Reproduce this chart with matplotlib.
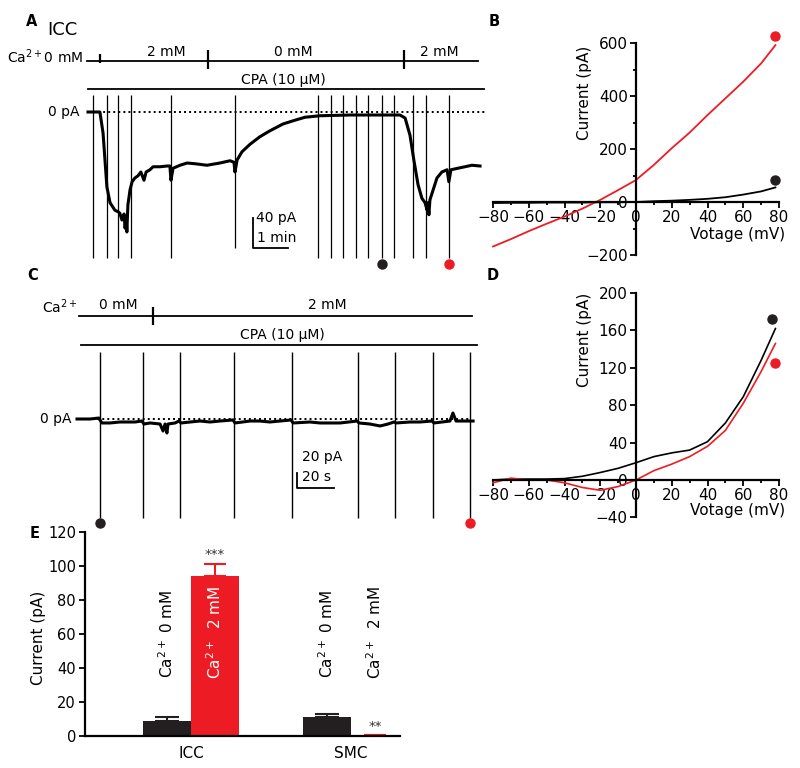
"""
ICC / SMC Ca2+ 의존 전류 — 5 패널 (A~E) 재현
"""
import matplotlib
matplotlib.use("Agg")
import matplotlib.pyplot as plt
import matplotlib.ticker as mticker

plt.rcParams["font.family"] = ["DejaVu Sans"]
plt.rcParams["mathtext.fontset"] = "dejavusans"

BLACK = "#231f20"
RED = "#ed1c24"

# ── 데이터 ────────────────────────────────────────────────────────────
# A: ICC 전류 기록 (시간 min, 전류 pA)
a_t = [0, 0.34, 0.43, 0.54, 0.63, 0.77, 0.86, 0.91, 0.97, 1.03, 1.06, 1.09, 1.11,
       1.14, 1.2, 1.26, 1.34, 1.43, 1.51, 1.6, 1.66, 1.77, 1.86, 2.06, 2.26, 2.34,
       2.37, 2.43, 2.63, 2.83, 3.06, 3.4, 3.77, 4.06, 4.17, 4.2, 4.26, 4.4, 4.63,
       4.91, 5.2, 5.57, 5.91, 6.2, 6.63, 7.49, 8.34, 8.91, 9.06, 9.2, 9.31, 9.43,
       9.54, 9.63, 9.69, 9.71, 9.74, 9.77, 9.86, 9.97, 10.11, 10.26, 10.31, 10.37,
       10.57, 10.77, 10.97, 11.2]
a_i = [0, 0, -28, -100, -121, -131, -133, -135, -144, -136, -155, -140, -160,
       -124, -104, -93, -88, -85, -80, -91, -80, -77, -73, -73, -72, -72,
       -91, -75, -71, -68, -69, -71, -68, -65, -67, -80, -64, -53, -43,
       -33, -25, -16, -11, -7, -5, -4, -4, -4, -8, -31, -64, -97,
       -115, -121, -131, -121, -137, -117, -104, -88, -80, -77, -93, -77,
       -75, -73, -71, -72]
a_ramps = [0.14, 0.54, 0.86, 1.23, 2.37, 4.2, 6.57, 6.94, 7.29, 7.66, 8.0, 8.4,
           8.74, 9.29, 9.66, 10.31]
a_ramp_bottom = [-195, -195, -195, -195, -195, -181, -195, -195, -195, -195,
                 -195, -195, -195, -195, -195, -195]
a_ramp_top = 23
a_ca_switch = [0.34, 3.43, 9.03]
a_ca_labels = ["2 mM", "0 mM", "2 mM"]
a_marked = [8.4, 10.31]   # 검정: Ca 0 mM, 빨강: Ca 2 mM

# B: ICC I-V (mV, pA)
b_v = [-80, -70, -60, -50, -40, -30, -20, -10, 0, 10, 20, 30, 40, 50, 60, 70, 78]
b_ca0 = [-4, -3, -3, -2, -2, -2, -1, -1, 0, 3, 5, 8, 12, 18, 28, 40, 55]
b_ca2 = [-168, -140, -110, -82, -55, -25, 8, 45, 83, 140, 203, 262, 328, 391,
         454, 523, 592]
b_dots = [(77.5, 83), (77.5, 626)]

# C: SMC 전류 기록 (시간 s, 전류 pA)
c_t = [0, 7, 11.9, 12.4, 13.5, 17.8, 23.2, 31.4, 35.1, 36.2, 39.5, 44.9, 46.5,
       47.6, 48.6, 49.2, 53, 55.1, 56.2, 61.1, 66.5, 71.9, 77.3, 84.3, 85.4, 93.5,
       98.9, 104.3, 109.7, 115.7, 116.8, 125.9, 131.4, 142.2, 151.4, 152.4, 158.4,
       163.8, 168.1, 171.4, 172.4, 180, 185.4, 191.9, 192.9, 201.6, 203.2, 204.9,
       212.4, 214.1]
c_i = [0, 0, 1.3, -1.3, -5.3, -5.3, -4, -4, -2.7, -6.7, -5.3, -6.7, -16,
       -6.7, -18.7, -6.7, -5.3, -2.7, -5.3, -4, -2.7, -4, -2.7, -1.3, -5.3, -2.7,
       -2.7, -4, -2.7, -1.3, -5.3, -4, -5.3, -5.3, -2.7, -5.3, -6.7,
       -9.3, -6.7, -4, -5.3, -4, -4, -2.7, -5.3, -2.7, 8, -2.7,
       -2.7, -2.7]
c_ramps = [12.4, 35.7, 55.7, 84.9, 116.2, 151.9, 171.9, 192.4, 212.4]
c_ramp_top, c_ramp_bottom = 89, -132
c_ca_switch = 41.1
c_marked = [12.4, 212.4]

# D: SMC I-V (mV, pA)
d_v = [-80, -70, -60, -50, -40, -30, -20, -10, 0, 10, 20, 30, 40, 50, 60, 70, 78]
d_ca0 = [0, 1, 1, 1, 1.5, 4, 8, 12.5, 18.5, 25, 29, 32, 41, 61, 89, 128, 162]
d_ca2 = [-3, 2, 0, 0, -3, -8, -11, -7, 0, 10, 17, 25, 36, 53, 82, 116, 146]
d_dots = [(76, 172), (78, 125)]

# E: 평균 전류 요약
e_groups = ["ICC", "SMC"]
e_ca0_mean = [8.6, 11.0]
e_ca0_err = [2.8, 2.0]
e_ca2_mean = [94.0, 0.8]
e_ca2_err = [7.0, 0.0]
e_stars = ["***", "**"]

# ── 레이아웃 도우미 (픽셀 기준) ───────────────────────────────────────
W, H = 800, 768
fig = plt.figure(figsize=(W / 100, H / 100), dpi=100)


def box(l, t, r, b, x0, sx, y0, sy):
    ax = fig.add_axes([l / W, 1 - b / H, (r - l) / W, (b - t) / H])
    ax.set_xlim((l - x0) / sx, (r - x0) / sx)
    ax.set_ylim((y0 - b) / sy, (y0 - t) / sy)
    ax.patch.set_alpha(0)
    return ax


def ftext(x, y, s, **kw):
    kw.setdefault("fontsize", 10)
    kw.setdefault("va", "center")
    fig.text(x / W, 1 - y / H, s, **kw)


for lab, (x, y) in zip("ABCDE", [(32, 21), (494, 21), (33, 275), (493, 275), (35, 533)]):
    ftext(x, y, lab, fontsize=10.5, fontweight="bold", ha="center")

# ── A ───────────────────────────────────────────────────────────────
axA = box(70, 40, 495, 275, x0=88, sx=35, y0=112, sy=0.75)
axA.axis("off")
axA.plot([0, 11.37], [0, 0], color="k", lw=1.4, ls=(0, (1, 1.6)))
axA.vlines(a_ramps, a_ramp_bottom, a_ramp_top, color="k", lw=0.9)
axA.plot(a_t, a_i, color="k", lw=2.2, solid_joinstyle="round")
axA.plot([-0.03, 11.14], [68, 68], color="k", lw=1.3)
axA.vlines(a_ca_switch[0], 66, 77, color="k", lw=1.6)
axA.vlines(a_ca_switch[1:], 57, 83, color="k", lw=1.6)
axA.plot([0, 11.31], [30.7, 30.7], color="k", lw=1.3)
axA.plot([4.71, 4.71, 5.71], [-141, -181, -181], color="k", lw=1.3)
axA.plot(a_marked[0], -203, "o", color=BLACK, ms=6.5)
axA.plot(a_marked[1], -203, "o", color=RED, ms=6.5)

ftext(47, 30, "ICC", fontsize=13)
ftext(7, 57, "Ca$^{2+}$0 mM", fontsize=10)
for x, s in zip([166, 293, 439], a_ca_labels):
    ftext(x, 52, s, ha="center")
ftext(283, 80, "CPA (10 µM)", ha="center")
ftext(79, 112, "0 pA", ha="right")
ftext(256, 218, "40 pA")
ftext(257, 238, "1 min")

# ── C ───────────────────────────────────────────────────────────────
axC = box(70, 295, 485, 530, x0=77, sx=1.85, y0=419, sy=0.75)
axC.axis("off")
axC.plot([0, 213], [0, 0], color="k", lw=1.4, ls=(0, (1, 1.6)))
axC.vlines(c_ramps, c_ramp_bottom, c_ramp_top, color="k", lw=1.0)
axC.plot(c_t, c_i, color="k", lw=2.2, solid_joinstyle="round")
axC.plot([1.1, 213.5], [137, 137], color="k", lw=1.3)
axC.vlines(c_ca_switch, 125, 149, color="k", lw=1.6)
axC.plot([2.2, 216.2], [98.7, 98.7], color="k", lw=1.3)
axC.plot([118.9, 118.9, 138.9], [-72, -92, -92], color="k", lw=1.3)
axC.plot(c_marked[0], -138.7, "o", color=BLACK, ms=6.5)
axC.plot(c_marked[1], -138.7, "o", color=RED, ms=6.5)

ftext(42, 307, "Ca$^{2+}$", fontsize=10)
ftext(118, 305, "0 mM", ha="center")
ftext(327, 305, "2 mM", ha="center")
ftext(282, 335, "CPA (10 µM)", ha="center")
ftext(71, 419, "0 pA", ha="right")
ftext(302, 457, "20 pA")
ftext(302, 477, "20 s")

# ── B, D : I-V ───────────────────────────────────────────────────────
axB = box(470, 30, 795, 262, x0=636, sx=1.7875, y0=202, sy=0.265)
axD = box(470, 285, 795, 525, x0=636, sx=1.7875, y0=480, sy=0.935)

for ax in (axB, axD):
    ax.spines[["top", "right"]].set_visible(False)
    ax.spines["left"].set_position(("data", 0))
    ax.spines["bottom"].set_position(("data", 0))
    ax.spines["left"].set_linewidth(1.6)
    ax.spines["bottom"].set_linewidth(1.6)
    ax.spines["bottom"].set_bounds(-80, 80)
    ax.set_xticks(range(-80, 81, 20))
    ax.xaxis.set_minor_locator(mticker.FixedLocator(range(-70, 80, 20)))
    ax.tick_params(which="both", direction="out", width=1.3, labelsize=11, pad=1.5)
    ax.tick_params(which="major", length=4.5)
    ax.tick_params(which="minor", length=2.5)

axB.spines["left"].set_bounds(-200, 600)
axB.set_yticks(range(-200, 601, 200))
axB.yaxis.set_minor_locator(mticker.FixedLocator(range(-100, 600, 200)))
axB.plot(b_v, b_ca0, color="k", lw=1.3)
axB.plot(b_v, b_ca2, color=RED, lw=1.3)
axB.plot(*b_dots[0], "o", color=BLACK, ms=6.5, clip_on=False)
axB.plot(*b_dots[1], "o", color=RED, ms=6.5, clip_on=False)

axD.spines["left"].set_bounds(-40, 200)
axD.set_yticks(range(-40, 201, 40))
axD.plot(d_v, d_ca0, color="k", lw=1.2)
axD.plot(d_v, d_ca2, color=RED, lw=1.2)
axD.plot(*d_dots[0], "o", color=BLACK, ms=6.5, clip_on=False)
axD.plot(*d_dots[1], "o", color=RED, ms=6.5, clip_on=False)

ftext(585, 93, "Current (pA)", fontsize=11, rotation=90, ha="center")
ftext(738, 235, "Votage (mV)", fontsize=11, ha="center")
ftext(585, 340, "Current (pA)", fontsize=11, rotation=90, ha="center")
ftext(738, 511, "Votage (mV)", fontsize=11, ha="center")

# ── E : 막대 요약 ────────────────────────────────────────────────────
axE = box(85, 532, 400, 736, x0=191, sx=160, y0=736, sy=1.7)
axE.spines[["top", "right"]].set_visible(False)
axE.spines["left"].set_linewidth(1.6)
axE.spines["bottom"].set_linewidth(1.6)
xs = list(range(len(e_groups)))
bw = 0.3
x0s = [x - bw / 2 for x in xs]
x2s = [x + bw / 2 for x in xs]
axE.bar(x0s, e_ca0_mean, width=bw, color=BLACK,
        yerr=[[0] * 2, e_ca0_err], capsize=8.5,
        error_kw=dict(ecolor=BLACK, elinewidth=1.5, capthick=1.5))
axE.bar(x2s, e_ca2_mean, width=bw, color=RED,
        yerr=[[0] * 2, e_ca2_err], capsize=8,
        error_kw=dict(ecolor=RED, elinewidth=1.5, capthick=1.5))
axE.set_yticks(range(0, 121, 20))
axE.set_xticks(xs)
axE.set_xticklabels(e_groups, fontsize=11)
axE.tick_params(axis="x", length=0, pad=7)
axE.tick_params(axis="y", direction="out", length=4.5, width=1.3, labelsize=10.5, pad=2)

for x in x0s:
    axE.text(x, 60, "Ca$^{2+}$ 0 mM", rotation=90, ha="center", va="center", fontsize=11)
axE.text(x2s[0], 61, "Ca$^{2+}$  2 mM", rotation=90, ha="center", va="center",
         fontsize=11, color="white")
axE.text(x2s[1], 61, "Ca$^{2+}$  2 mM", rotation=90, ha="center", va="center", fontsize=11)
axE.text(x2s[0], 106.5, e_stars[0], ha="center", va="center", fontsize=9.5, color="#333333")
axE.text(x2s[1], 5.5, e_stars[1], ha="center", va="center", fontsize=9.5, color="#333333")

ftext(38, 638, "Current (pA)", fontsize=11, rotation=90, ha="center")

fig.savefig("out.png", dpi=100)
plt.close()
